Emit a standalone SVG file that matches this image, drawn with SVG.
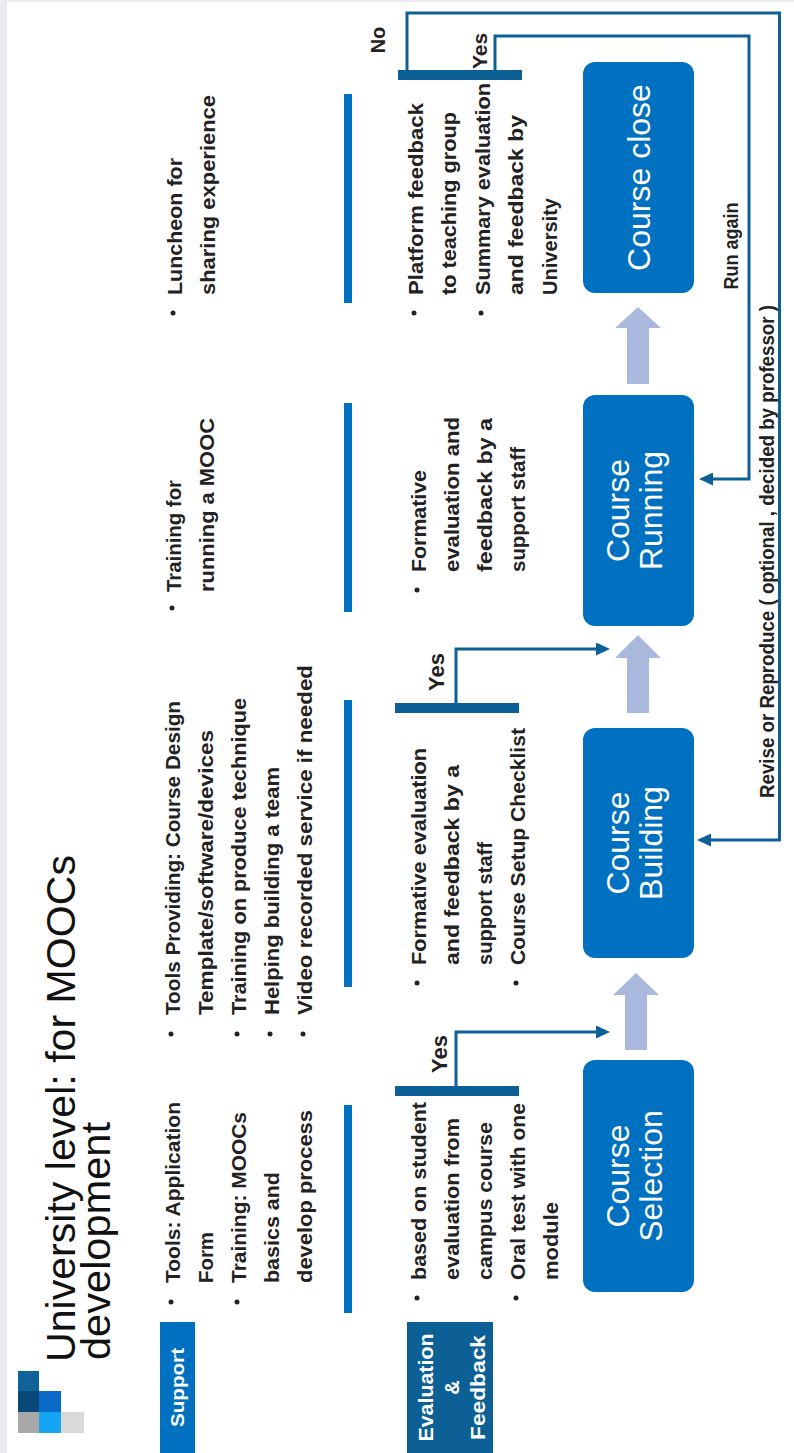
<svg xmlns="http://www.w3.org/2000/svg" width="794" height="1453" viewBox="0 0 794 1453">
<style>
.t{font-family:"Liberation Sans",Arial,sans-serif;font-weight:bold;font-size:21px;fill:#222}
.title{font-family:"Liberation Sans",Arial,sans-serif;font-size:41px;fill:#111}
.lbl{font-family:"Liberation Sans",Arial,sans-serif;font-weight:bold;fill:#fff;text-anchor:middle}
.box{fill:#0070c0}
.btxt{font-family:"Liberation Sans",Arial,sans-serif;font-size:32px;fill:#fff;text-anchor:middle}
.bar{fill:#0070c0}
.dbar{fill:#0c6095}
.conn{fill:none;stroke:#0c6095;stroke-width:3}
.wa{fill:#a9b9de}
.yes{font-family:"Liberation Sans",Arial,sans-serif;font-weight:bold;fill:#222;text-anchor:middle}
.dot{fill:#222}
</style>
<defs>
<marker id="ah" markerWidth="14" markerHeight="13" refX="6" refY="6.5" orient="auto" markerUnits="userSpaceOnUse"><path d="M0,0 L14,6.5 L0,13 Z" fill="#0c6095"/></marker>
</defs>
<rect width="794" height="1453" fill="#ebebef"/>
<g transform="matrix(0 -1 1 0 0 1453)">
<rect x="0" y="7" width="1451" height="787" fill="#fff"/>

<g id="logo">
<rect x="62" y="18" width="20" height="21" fill="#0e6499"/>
<rect x="41" y="18" width="21" height="21" fill="#0a4a78"/>
<rect x="41" y="39" width="21" height="22" fill="#0b6ac8"/>
<rect x="20" y="18" width="21" height="21" fill="#a8a8a8"/>
<rect x="20" y="39" width="21" height="22" fill="#14a6f5"/>
<rect x="20" y="61" width="21" height="23" fill="#d9d9d9"/>
</g>

<g id="title">
<text class="title" x="91" y="75" textLength="507" lengthAdjust="spacingAndGlyphs">University level: for MOOCs</text>
<text class="title" x="93" y="110" textLength="238" lengthAdjust="spacingAndGlyphs">development</text>
</g>

<g id="support-label">
<rect x="0" y="160" width="131" height="35" fill="#0070c0"/>
<text class="lbl" x="65.5" y="184" font-size="19" textLength="79" lengthAdjust="spacingAndGlyphs">Support</text>
</g>

<g id="eval-label">
<rect x="0" y="407" width="131" height="86" fill="#0c6095"/>
<text class="lbl" x="65.5" y="433" font-size="20" textLength="108" lengthAdjust="spacingAndGlyphs">Evaluation</text>
<text class="lbl" x="65.5" y="459" font-size="20">&amp;</text>
<text class="lbl" x="65.5" y="485" font-size="20" textLength="105" lengthAdjust="spacingAndGlyphs">Feedback</text>
</g>

<g id="support-1">
<circle class="dot" cx="151" cy="171" r="2.5"/>
<circle class="dot" cx="151" cy="237" r="2.5"/>
<text class="t" x="170" y="180" textLength="181" lengthAdjust="spacingAndGlyphs">Tools: Application</text>
<text class="t" x="170" y="213" textLength="51" lengthAdjust="spacingAndGlyphs">Form</text>
<text class="t" x="170" y="246" textLength="171" lengthAdjust="spacingAndGlyphs">Training: MOOCs</text>
<text class="t" x="170" y="279" textLength="111" lengthAdjust="spacingAndGlyphs">basics and</text>
<text class="t" x="170" y="312" textLength="173" lengthAdjust="spacingAndGlyphs">develop process</text>
</g>

<g id="support-2">
<circle class="dot" cx="419" cy="171" r="2.5"/>
<circle class="dot" cx="419" cy="237" r="2.5"/>
<circle class="dot" cx="419" cy="270" r="2.5"/>
<circle class="dot" cx="419" cy="303" r="2.5"/>
<text class="t" x="438" y="180" textLength="314" lengthAdjust="spacingAndGlyphs">Tools Providing: Course Design</text>
<text class="t" x="438" y="213" textLength="285" lengthAdjust="spacingAndGlyphs">Template/software/devices</text>
<text class="t" x="438" y="246" textLength="317" lengthAdjust="spacingAndGlyphs">Training on produce technique</text>
<text class="t" x="438" y="279" textLength="248" lengthAdjust="spacingAndGlyphs">Helping building a team</text>
<text class="t" x="438" y="312" textLength="350" lengthAdjust="spacingAndGlyphs">Video recorded service if needed</text>
</g>

<g id="support-3">
<circle class="dot" cx="845" cy="172" r="2.5"/>
<text class="t" x="861" y="181" textLength="112" lengthAdjust="spacingAndGlyphs">Training for</text>
<text class="t" x="861" y="214" textLength="174" lengthAdjust="spacingAndGlyphs">running a MOOC</text>
</g>

<g id="support-4">
<circle class="dot" cx="1140" cy="173" r="2.5"/>
<text class="t" x="1158" y="182" textLength="137" lengthAdjust="spacingAndGlyphs">Luncheon for</text>
<text class="t" x="1158" y="215" textLength="200" lengthAdjust="spacingAndGlyphs">sharing experience</text>
</g>

<g id="separators">
<rect class="bar" x="140" y="344" width="208" height="8"/>
<rect class="bar" x="466" y="344" width="287" height="8"/>
<rect class="bar" x="841" y="344" width="209" height="8"/>
<rect class="bar" x="1150" y="344" width="209" height="8"/>
</g>

<g id="eval-1">
<circle class="dot" cx="155" cy="417" r="2.5"/>
<circle class="dot" cx="155" cy="516" r="2.5"/>
<text class="t" x="173" y="426" textLength="178" lengthAdjust="spacingAndGlyphs">based on student</text>
<text class="t" x="173" y="459" textLength="162" lengthAdjust="spacingAndGlyphs">evaluation from</text>
<text class="t" x="173" y="492" textLength="158" lengthAdjust="spacingAndGlyphs">campus course</text>
<text class="t" x="173" y="525" textLength="177" lengthAdjust="spacingAndGlyphs">Oral test with one</text>
<text class="t" x="173" y="558" textLength="78" lengthAdjust="spacingAndGlyphs">module</text>
</g>

<g id="eval-2">
<circle class="dot" cx="470" cy="417" r="2.5"/>
<circle class="dot" cx="470" cy="516" r="2.5"/>
<text class="t" x="488" y="426" textLength="217" lengthAdjust="spacingAndGlyphs">Formative evaluation</text>
<text class="t" x="488" y="459" textLength="200" lengthAdjust="spacingAndGlyphs">and feedback by a</text>
<text class="t" x="488" y="492" textLength="123" lengthAdjust="spacingAndGlyphs">support staff</text>
<text class="t" x="488" y="525" textLength="237" lengthAdjust="spacingAndGlyphs">Course Setup Checklist</text>
</g>

<g id="eval-3">
<circle class="dot" cx="863" cy="417" r="2.5"/>
<text class="t" x="881" y="426" textLength="102" lengthAdjust="spacingAndGlyphs">Formative</text>
<text class="t" x="881" y="459" textLength="155" lengthAdjust="spacingAndGlyphs">evaluation and</text>
<text class="t" x="881" y="492" textLength="154" lengthAdjust="spacingAndGlyphs">feedback by a</text>
<text class="t" x="881" y="525" textLength="125" lengthAdjust="spacingAndGlyphs">support staff</text>
</g>

<g id="eval-4">
<circle class="dot" cx="1140" cy="414" r="2.5"/>
<circle class="dot" cx="1140" cy="481" r="2.5"/>
<text class="t" x="1158" y="423" textLength="192" lengthAdjust="spacingAndGlyphs">Platform feedback</text>
<text class="t" x="1158" y="456" textLength="183" lengthAdjust="spacingAndGlyphs">to teaching group</text>
<text class="t" x="1158" y="490" textLength="212" lengthAdjust="spacingAndGlyphs">Summary evaluation</text>
<text class="t" x="1158" y="523" textLength="180" lengthAdjust="spacingAndGlyphs">and feedback by</text>
<text class="t" x="1158" y="557" textLength="97" lengthAdjust="spacingAndGlyphs">University</text>
</g>

<g id="decision-1">
<rect class="dbar" x="357" y="395" width="10" height="124"/>
<text class="yes" x="399" y="447" font-size="22">Yes</text>
</g>
<g id="decision-2">
<rect class="dbar" x="740" y="395" width="10" height="124"/>
<text class="yes" x="781" y="444" font-size="22">Yes</text>
</g>
<g id="decision-3">
<rect class="dbar" x="1373" y="398" width="10" height="124"/>
<text class="yes" x="1402" y="487" font-size="21">Yes</text>
<text class="yes" x="1413" y="385" font-size="20">No</text>
</g>

<g id="flow-arrows">
<polygon class="wa" points="403,625 458,625 458,613 480,636 458,659 458,647 403,647"/>
<polygon class="wa" points="740,627 795,627 795,615 818,638 795,661 795,649 740,649"/>
<polygon class="wa" points="1069,627 1125,627 1125,615 1146,638 1125,661 1125,649 1069,649"/>
</g>

<g id="connectors">
<path class="conn" d="M367 456 H421 V602" marker-end="url(#ah)"/>
<path class="conn" d="M750 456 H804 V602" marker-end="url(#ah)"/>
<path class="conn" d="M1383 407 H1440 V779.5 H613 V705" marker-end="url(#ah)"/>
<path class="conn" d="M1383 495 H1417 V749 H974 V707" marker-end="url(#ah)"/>
<text class="t" x="1207" y="738" font-size="16" text-anchor="middle" textLength="87" lengthAdjust="spacingAndGlyphs">Run again</text>
<text class="t" x="655" y="774" font-size="16" textLength="493" lengthAdjust="spacingAndGlyphs">Revise or Reproduce ( optional , decided by professor )</text>
</g>

<g id="course-selection">
<rect class="box" x="161" y="583" width="232" height="111" rx="12"/>
<text class="btxt" x="277" y="629">Course</text>
<text class="btxt" x="277" y="662">Selection</text>
</g>
<g id="course-building">
<rect class="box" x="495" y="583" width="230" height="111" rx="12"/>
<text class="btxt" x="610" y="629">Course</text>
<text class="btxt" x="610" y="662">Building</text>
</g>
<g id="course-running">
<rect class="box" x="827" y="583" width="231" height="111" rx="12"/>
<text class="btxt" x="942.5" y="629">Course</text>
<text class="btxt" x="942.5" y="662">Running</text>
</g>
<g id="course-close">
<rect class="box" x="1160" y="583" width="231" height="111" rx="12"/>
<text class="btxt" x="1275.5" y="650">Course close</text>
</g>
</g>
</svg>
